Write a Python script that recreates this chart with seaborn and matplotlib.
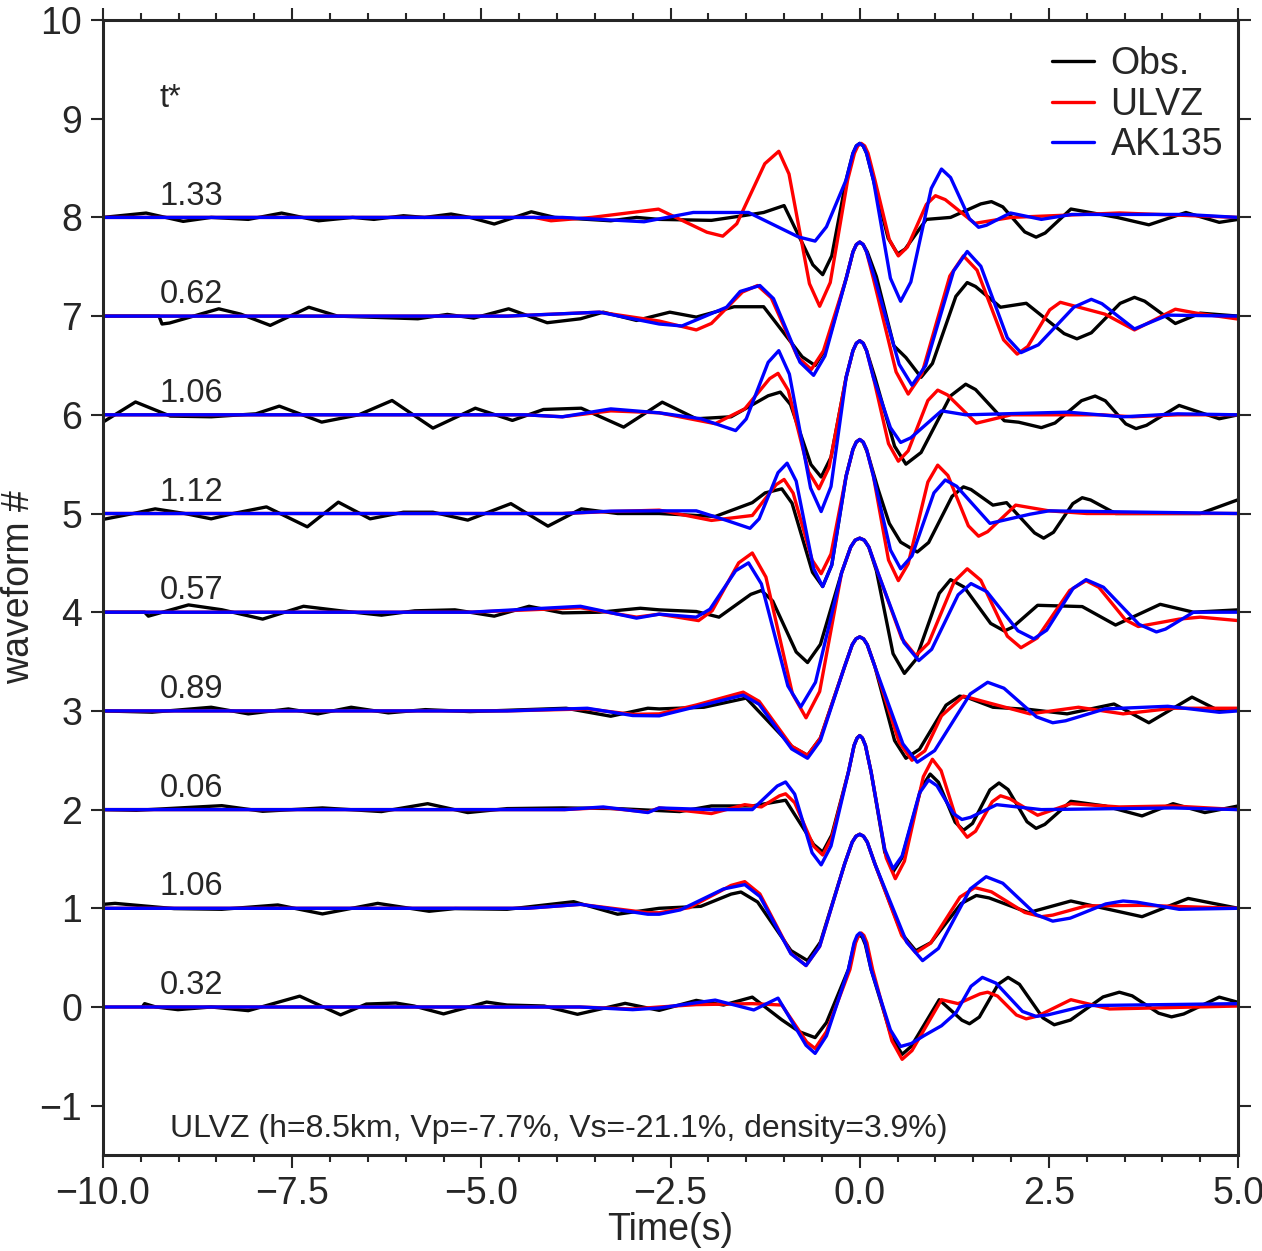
import pandas as pd
import numpy as np
import seaborn as sns
import matplotlib.pyplot as plt
from matplotlib.lines import Line2D
from matplotlib.ticker import MultipleLocator

# (time [s], amplitude) picked off the figure; each trace is drawn offset by its index
OBS_8 = [(-10.0, 0.0), (-9.43, 0.044), (-8.94, -0.04), (-8.57, 0.0), (-8.08, -0.02), (-7.64, 0.044), (-7.15, -0.034),
         (-6.7, 0.0), (-6.42, -0.02), (-6.03, 0.017), (-5.75, 0.0), (-5.4, 0.034), (-5.15, 0.0), (-4.83, -0.067),
         (-4.34, 0.057), (-4.03, 0.0), (-3.29, -0.034), (-2.95, 0.0), (-2.65, -0.02), (-1.96, -0.03), (-1.52, 0.02),
         (-1.27, 0.05), (-1.0, 0.12), (-0.62, -0.48), (-0.49, -0.58), (-0.37, -0.39), (-0.18, 0.38), (-0.09, 0.65),
         (-0.045, 0.725), (0.0, 0.75), (0.045, 0.725), (0.09, 0.65), (0.18, 0.38), (0.375, -0.21), (0.5, -0.37),
         (0.6, -0.32), (0.88, -0.02), (1.2, 0.0), (1.6, 0.137), (1.74, 0.16), (1.89, 0.107), (2.18, -0.147),
         (2.33, -0.2), (2.45, -0.158), (2.79, 0.085), (3.4, 0.0), (3.82, -0.075), (4.31, 0.05), (4.75, -0.05),
         (5.0, -0.02)]
ULVZ_8 = [(-10.0, 0.0), (-4.3, 0.0), (-4.08, -0.034), (-3.54, 0.0), (-2.66, 0.084), (-2.02, -0.15), (-1.81, -0.19),
          (-1.625, -0.064), (-1.255, 0.544), (-1.07, 0.67), (-0.935, 0.44), (-0.665, -0.671), (-0.53, -0.9),
          (-0.39, -0.66), (-0.16, 0.38), (-0.07, 0.65), (-0.025, 0.725), (0.02, 0.75), (0.065, 0.725), (0.11, 0.65),
          (0.2, 0.38), (0.39, -0.224), (0.51, -0.39), (0.63, -0.3), (0.88, 0.131), (1.0, 0.22), (1.13, 0.18),
          (1.52, -0.06), (2.0, 0.0), (3.43, 0.045), (5.0, 0.0)]
AK135_8 = [(-10.0, 0.0), (-3.93, 0.0), (-2.85, -0.044), (-2.2, 0.05), (-1.47, 0.05), (-0.81, -0.198), (-0.59, -0.24),
           (-0.44, -0.095), (-0.18, 0.38), (-0.09, 0.65), (-0.045, 0.725), (0.0, 0.75), (0.045, 0.725), (0.09, 0.65),
           (0.18, 0.38), (0.405, -0.616), (0.54, -0.85), (0.675, -0.654), (0.945, 0.294), (1.08, 0.49), (1.2, 0.404),
           (1.45, -0.014), (1.57, -0.1), (1.675, -0.079), (1.99, 0.045), (2.4, -0.02), (2.8, 0.03), (4.3, 0.03),
           (5.0, 0.0)]

OBS_7 = [(-10.0, 0.0), (-9.26, 0.0), (-9.22, -0.08), (-9.12, -0.07), (-8.47, 0.074), (-8.18, 0.02), (-7.79, -0.094),
         (-7.28, 0.09), (-6.9, 0.0), (-5.84, -0.027), (-5.45, 0.017), (-5.1, -0.02), (-4.64, 0.074), (-4.13, -0.067),
         (-3.69, -0.027), (-3.39, 0.04), (-2.95, -0.044), (-2.51, 0.04), (-2.16, -0.01), (-1.66, 0.095),
         (-1.27, 0.095), (-0.76, -0.413), (-0.59, -0.5), (-0.44, -0.317), (-0.18, 0.38), (-0.09, 0.65),
         (-0.045, 0.725), (0.0, 0.75), (0.045, 0.725), (0.1, 0.65), (0.22, 0.4), (0.45, -0.3), (0.61, -0.42),
         (0.81, -0.62), (0.96, -0.48), (1.27, 0.2), (1.42, 0.34), (1.53, 0.3), (1.86, 0.09), (2.2, 0.13),
         (2.7, -0.177), (2.87, -0.23), (3.06, -0.169), (3.44, 0.129), (3.63, 0.19), (3.765, 0.151), (4.17, -0.075),
         (4.5, 0.03), (5.0, 0.0)]
ULVZ_7 = [(-10.0, 0.0), (-4.66, 0.0), (-3.44, 0.04), (-2.65, -0.05), (-2.16, -0.14), (-1.96, -0.074), (-1.55, 0.244),
          (-1.35, 0.31), (-1.17, 0.186), (-0.82, -0.416), (-0.64, -0.54), (-0.48, -0.352), (-0.18, 0.38),
          (-0.09, 0.65), (-0.045, 0.725), (0.0, 0.75), (0.045, 0.725), (0.09, 0.65), (0.18, 0.38), (0.48, -0.565),
          (0.64, -0.79), (0.82, -0.586), (1.19, 0.406), (1.37, 0.61), (1.55, 0.465), (1.9, -0.24), (2.08, -0.385),
          (2.22, -0.308), (2.51, 0.063), (2.65, 0.14), (3.24, 0.02), (3.63, -0.14), (4.17, 0.07), (4.45, 0.03),
          (5.0, -0.03)]
AK135_7 = [(-10.0, 0.0), (-4.66, 0.0), (-3.44, 0.04), (-2.65, -0.08), (-2.35, -0.1), (-1.76, 0.09), (-1.58, 0.25),
           (-1.32, 0.31), (-1.14, 0.177), (-0.79, -0.467), (-0.61, -0.6), (-0.46, -0.403), (-0.18, 0.38),
           (-0.09, 0.65), (-0.045, 0.725), (0.0, 0.75), (0.045, 0.725), (0.09, 0.65), (0.2, 0.38), (0.52, -0.488),
           (0.69, -0.7), (0.87, -0.502), (1.24, 0.457), (1.42, 0.655), (1.6, 0.505), (1.95, -0.22), (2.13, -0.37),
           (2.36, -0.291), (2.83, 0.091), (3.06, 0.17), (3.2, 0.126), (3.63, -0.13), (4.07, 0.01), (5.0, 0.0)]

OBS_6 = [(-10.0, -0.074), (-9.57, 0.13), (-9.11, -0.013), (-8.57, -0.02), (-7.98, 0.01), (-7.67, 0.088),
         (-7.11, -0.074), (-6.62, 0.0), (-6.18, 0.145), (-5.64, -0.135), (-5.08, 0.067), (-4.59, -0.057),
         (-4.18, 0.054), (-3.68, 0.067), (-3.12, -0.125), (-2.61, 0.128), (-2.16, -0.04), (-1.7, -0.02),
         (-1.21, 0.193), (-1.05, 0.23), (-0.915, 0.104), (-0.645, -0.504), (-0.51, -0.63), (-0.38, -0.43),
         (-0.18, 0.38), (-0.09, 0.65), (-0.045, 0.725), (0.0, 0.75), (0.045, 0.725), (0.09, 0.65), (0.2, 0.38),
         (0.46, -0.318), (0.61, -0.5), (0.81, -0.382), (1.2, 0.192), (1.4, 0.31), (1.53, 0.256), (1.91, -0.06),
         (2.1, -0.075), (2.4, -0.13), (2.58, -0.083), (2.93, 0.143), (3.11, 0.19), (3.245, 0.142), (3.515, -0.092),
         (3.65, -0.14), (3.79, -0.106), (4.22, 0.095), (4.75, -0.04), (5.0, 0.0)]
ULVZ_6 = [(-10.0, 0.0), (-4.42, 0.0), (-3.93, -0.02), (-3.29, 0.04), (-2.65, 0.02), (-1.91, -0.09), (-1.52, 0.06),
          (-1.19, 0.367), (-1.08, 0.42), (-0.945, 0.249), (-0.675, -0.579), (-0.54, -0.75), (-0.405, -0.531),
          (-0.18, 0.38), (-0.09, 0.65), (-0.045, 0.725), (0.0, 0.75), (0.045, 0.725), (0.09, 0.65), (0.18, 0.38),
          (0.38, -0.292), (0.51, -0.47), (0.64, -0.365), (0.9, 0.145), (1.03, 0.25), (1.16, 0.201), (1.54, -0.085),
          (2.0, 0.0), (3.2, 0.0), (3.6, -0.02), (4.2, 0.0), (5.0, 0.0)]
AK135_6 = [(-10.0, 0.0), (-4.42, 0.0), (-3.93, -0.02), (-3.29, 0.06), (-2.65, 0.02), (-2.1, -0.04), (-1.64, -0.16),
           (-1.5, -0.042), (-1.21, 0.532), (-1.07, 0.65), (-0.93, 0.412), (-0.65, -0.742), (-0.51, -0.98),
           (-0.38, -0.727), (-0.18, 0.38), (-0.09, 0.65), (-0.045, 0.725), (0.0, 0.75), (0.045, 0.725), (0.09, 0.65),
           (0.18, 0.38), (0.405, -0.13), (0.54, -0.28), (0.675, -0.233), (1.08, 0.04), (1.4, 0.0), (2.75, 0.027),
           (3.48, -0.02), (4.2, 0.01), (5.0, 0.0)]

OBS_5 = [(-10.0, -0.06), (-9.6, 0.0), (-9.31, 0.047), (-8.92, 0.0), (-8.57, -0.054), (-8.28, 0.0), (-7.84, 0.067),
         (-7.3, -0.135), (-6.89, 0.115), (-6.47, -0.054), (-6.03, 0.013), (-5.64, 0.013), (-5.18, -0.067),
         (-4.61, 0.1), (-4.12, -0.128), (-3.68, 0.047), (-3.2, 0.0), (-2.65, 0.0), (-1.91, -0.03), (-1.42, 0.11),
         (-1.25, 0.209), (-1.03, 0.25), (-0.895, 0.105), (-0.625, -0.595), (-0.49, -0.74), (-0.37, -0.522),
         (-0.18, 0.38), (-0.09, 0.65), (-0.045, 0.725), (0.0, 0.75), (0.045, 0.72), (0.1, 0.62), (0.245, 0.24),
         (0.39, -0.1), (0.54, -0.29), (0.76, -0.39), (0.91, -0.294), (1.22, 0.174), (1.37, 0.27), (1.47, 0.243),
         (1.76, 0.085), (1.94, 0.11), (2.31, -0.197), (2.43, -0.25), (2.56, -0.19), (2.815, 0.1), (2.94, 0.16),
         (3.05, 0.137), (3.38, 0.0), (4.5, 0.0), (5.0, 0.14)]
ULVZ_5 = [(-10.0, 0.0), (-3.93, 0.0), (-3.29, 0.02), (-2.65, 0.034), (-1.96, -0.07), (-1.42, -0.02), (-1.105, 0.292),
          (-1.0, 0.345), (-0.88, 0.206), (-0.63, -0.471), (-0.51, -0.61), (-0.38, -0.41), (-0.18, 0.38),
          (-0.09, 0.65), (-0.045, 0.725), (0.0, 0.75), (0.045, 0.725), (0.09, 0.65), (0.18, 0.38), (0.38, -0.471),
          (0.51, -0.68), (0.64, -0.509), (0.9, 0.319), (1.03, 0.49), (1.165, 0.385), (1.435, -0.125), (1.57, -0.23),
          (1.69, -0.184), (2.06, 0.085), (2.5, 0.027), (3.0, 0.0), (5.0, 0.0)]
AK135_5 = [(-10.0, 0.0), (-3.93, 0.0), (-3.29, 0.024), (-2.65, 0.027), (-2.16, 0.027), (-1.76, -0.07), (-1.45, -0.15),
           (-1.33, -0.054), (-1.08, 0.414), (-0.96, 0.51), (-0.84, 0.328), (-0.61, -0.558), (-0.49, -0.74),
           (-0.37, -0.522), (-0.18, 0.38), (-0.09, 0.65), (-0.045, 0.725), (0.0, 0.75), (0.045, 0.725), (0.09, 0.65),
           (0.18, 0.38), (0.405, -0.369), (0.54, -0.56), (0.69, -0.429), (0.98, 0.209), (1.13, 0.34), (1.28, 0.276),
           (1.72, -0.1), (2.25, -0.007), (2.5, 0.027), (5.0, 0.0)]

OBS_4 = [(-10.0, 0.0), (-9.45, 0.0), (-9.4, -0.04), (-8.87, 0.074), (-8.43, 0.025), (-7.89, -0.07), (-7.35, 0.06),
         (-6.86, 0.014), (-6.32, -0.03), (-5.88, 0.014), (-5.35, 0.024), (-4.83, -0.04), (-4.37, 0.06),
         (-3.93, -0.007), (-3.44, 0.0), (-2.9, 0.04), (-2.65, 0.024), (-2.16, 0.007), (-1.86, -0.05),
         (-1.44, 0.181), (-1.3, 0.22), (-1.15, 0.113), (-0.84, -0.403), (-0.69, -0.51), (-0.52, -0.326),
         (-0.24, 0.4), (-0.12, 0.66), (-0.06, 0.73), (0.0, 0.75), (0.06, 0.73), (0.12, 0.66), (0.22, 0.42),
         (0.44, -0.42), (0.59, -0.62), (0.74, -0.481), (1.05, 0.191), (1.2, 0.33), (1.38, 0.254), (1.73, -0.114),
         (1.91, -0.19), (2.02, -0.152), (2.35, 0.07), (2.94, 0.057), (3.38, -0.13), (3.97, 0.08), (4.41, 0.0),
         (5.0, 0.024)]
ULVZ_4 = [(-10.0, 0.0), (-5.15, 0.0), (-3.69, 0.045), (-2.95, -0.05), (-2.65, -0.02), (-2.13, -0.085), (-1.95, 0.015),
          (-1.6, 0.5), (-1.42, 0.6), (-1.24, 0.356), (-0.89, -0.826), (-0.71, -1.07), (-0.53, -0.804), (-0.24, 0.4),
          (-0.12, 0.66), (-0.06, 0.73), (0.0, 0.75), (0.06, 0.73), (0.12, 0.66), (0.24, 0.4), (0.555, -0.266),
          (0.74, -0.44), (0.91, -0.312), (1.25, 0.312), (1.42, 0.44), (1.6, 0.323), (1.95, -0.243), (2.13, -0.36),
          (2.345, -0.261), (2.775, 0.221), (2.99, 0.32), (3.16, 0.252), (3.51, -0.077), (3.68, -0.145),
          (4.22, -0.07), (4.5, -0.05), (5.0, -0.085)]
AK135_4 = [(-10.0, 0.0), (-5.15, 0.0), (-3.69, 0.06), (-2.95, -0.06), (-2.65, -0.02), (-2.16, -0.05), (-1.98, 0.03),
           (-1.64, 0.42), (-1.47, 0.5), (-1.3, 0.287), (-0.95, -0.747), (-0.78, -0.96), (-0.585, -0.71),
           (-0.24, 0.4), (-0.12, 0.66), (-0.06, 0.73), (0.0, 0.75), (0.06, 0.73), (0.12, 0.66), (0.24, 0.4),
           (0.585, -0.309), (0.78, -0.49), (0.95, -0.376), (1.3, 0.176), (1.47, 0.29), (1.68, 0.208), (2.09, -0.188),
           (2.3, -0.27), (2.47, -0.182), (2.82, 0.242), (2.99, 0.33), (3.22, 0.253), (3.69, -0.123), (3.92, -0.2),
           (4.04, -0.171), (4.41, 0.0), (5.0, 0.0)]

OBS_3 = [(-10.0, 0.0), (-9.35, -0.013), (-8.57, 0.037), (-8.08, -0.03), (-7.55, 0.02), (-7.16, -0.03), (-6.72, 0.037),
         (-6.23, -0.02), (-5.74, 0.013), (-5.15, -0.007), (-3.88, 0.027), (-3.29, -0.054), (-2.8, 0.027),
         (-2.65, 0.02), (-2.06, 0.037), (-1.5, 0.13), (-0.89, -0.365), (-0.69, -0.45), (-0.52, -0.275), (-0.2, 0.45),
         (-0.1, 0.67), (-0.05, 0.73), (0.0, 0.75), (0.05, 0.73), (0.1, 0.67), (0.2, 0.45), (0.46, -0.3),
         (0.61, -0.48), (0.79, -0.388), (1.14, 0.058), (1.32, 0.15), (1.43, 0.133), (1.76, 0.037), (2.25, 0.014),
         (2.74, -0.03), (3.36, 0.07), (3.82, -0.12), (4.39, 0.14), (4.75, 0.0), (5.0, 0.02)]
ULVZ_3 = [(-10.0, 0.0), (-4.66, 0.0), (-3.6, 0.02), (-3.0, -0.035), (-2.65, -0.03), (-2.16, 0.06), (-1.54, 0.19),
          (-1.33, 0.097), (-0.9, -0.357), (-0.69, -0.45), (-0.52, -0.275), (-0.2, 0.45), (-0.1, 0.67), (-0.05, 0.73),
          (0.0, 0.75), (0.05, 0.73), (0.1, 0.67), (0.2, 0.45), (0.52, -0.318), (0.69, -0.5), (0.86, -0.405),
          (1.08, -0.05), (1.37, 0.15), (1.76, 0.07), (2.25, -0.03), (2.89, 0.037), (3.48, -0.03), (4.14, 0.027),
          (5.0, 0.027)]
AK135_3 = [(-10.0, 0.0), (-4.66, 0.0), (-3.6, 0.027), (-3.0, -0.047), (-2.65, -0.05), (-1.54, 0.16), (-1.33, 0.067),
           (-0.9, -0.385), (-0.69, -0.48), (-0.52, -0.3), (-0.2, 0.45), (-0.1, 0.67), (-0.05, 0.73), (0.0, 0.75),
           (0.05, 0.73), (0.1, 0.67), (0.2, 0.45), (0.57, -0.334), (0.76, -0.52), (0.99, -0.402), (1.46, 0.172),
           (1.69, 0.29), (1.905, 0.23), (2.335, -0.06), (2.55, -0.12), (2.72, -0.1), (3.24, 0.02), (4.07, 0.047),
           (4.75, -0.014), (5.0, 0.0)]

OBS_2 = [(-10.0, 0.0), (-9.56, -0.007), (-8.43, 0.04), (-7.89, -0.017), (-7.1, 0.017), (-6.32, -0.02), (-5.71, 0.06),
         (-5.18, -0.03), (-4.66, 0.01), (-3.93, 0.017), (-3.2, 0.01), (-2.38, -0.02), (-1.96, 0.037), (-1.42, 0.037),
         (-0.98, 0.095), (-0.61, -0.353), (-0.49, -0.43), (-0.37, -0.258), (-0.15, 0.38), (-0.075, 0.65),
         (-0.035, 0.725), (0.0, 0.75), (0.035, 0.725), (0.075, 0.65), (0.15, 0.38), (0.33, -0.43), (0.44, -0.63),
         (0.56, -0.485), (0.81, 0.215), (0.93, 0.36), (1.04, 0.277), (1.26, -0.127), (1.37, -0.21), (1.49, -0.14),
         (1.72, 0.2), (1.84, 0.27), (1.96, 0.203), (2.21, -0.123), (2.33, -0.19), (2.445, -0.15), (2.79, 0.084),
         (3.24, 0.037), (3.73, -0.064), (4.14, 0.06), (4.56, -0.03), (5.0, 0.037)]
ULVZ_2 = [(-10.0, 0.0), (-3.9, 0.0), (-3.39, 0.02), (-2.8, -0.025), (-2.65, 0.017), (-1.96, -0.04), (-1.52, 0.05),
          (-1.3, 0.027), (-1.06, 0.14), (-0.98, 0.16), (-0.86, 0.07), (-0.61, -0.37), (-0.49, -0.46), (-0.37, -0.283),
          (-0.15, 0.38), (-0.075, 0.65), (-0.035, 0.725), (0.0, 0.75), (0.035, 0.725), (0.075, 0.65), (0.15, 0.38),
          (0.35, -0.488), (0.47, -0.7), (0.59, -0.523), (0.84, 0.333), (0.96, 0.51), (1.075, 0.395), (1.305, -0.165),
          (1.42, -0.28), (1.53, -0.219), (1.75, 0.079), (1.86, 0.14), (1.98, 0.111), (2.35, -0.057), (2.79, 0.06),
          (3.43, 0.027), (4.14, 0.037), (5.0, 0.0)]
AK135_2 = [(-10.0, 0.0), (-3.9, 0.0), (-3.39, 0.027), (-2.8, -0.03), (-2.65, 0.017), (-1.96, 0.0), (-1.42, 0.0),
           (-1.09, 0.239), (-0.98, 0.28), (-0.86, 0.157), (-0.63, -0.437), (-0.51, -0.56), (-0.38, -0.369),
           (-0.15, 0.38), (-0.075, 0.65), (-0.035, 0.725), (0.0, 0.75), (0.035, 0.725), (0.075, 0.65), (0.15, 0.38),
           (0.33, -0.403), (0.44, -0.6), (0.56, -0.469), (0.79, 0.169), (0.91, 0.3), (1.02, 0.242), (1.24, -0.042),
           (1.35, -0.1), (1.465, -0.078), (1.81, 0.05), (2.4, 0.0), (4.14, 0.017), (5.0, 0.0)]

OBS_1 = [(-10.0, 0.04), (-9.84, 0.05), (-9.06, -0.003), (-8.43, -0.01), (-7.69, 0.034), (-7.1, -0.057),
         (-6.37, 0.05), (-5.69, -0.03), (-5.35, -0.003), (-4.66, -0.01), (-3.78, 0.067), (-3.2, -0.06), (-2.65, 0.0),
         (-2.1, 0.02), (-1.7, 0.144), (-1.57, 0.165), (-1.35, 0.064), (-0.91, -0.428), (-0.69, -0.53),
         (-0.52, -0.343), (-0.2, 0.45), (-0.1, 0.67), (-0.05, 0.73), (0.0, 0.75), (0.05, 0.73), (0.1, 0.67),
         (0.2, 0.45), (0.555, -0.258), (0.74, -0.43), (0.94, -0.348), (1.34, 0.048), (1.54, 0.13), (1.71, 0.105),
         (2.23, -0.044), (2.79, 0.074), (3.73, -0.085), (4.34, 0.1), (5.0, 0.0)]
ULVZ_1 = [(-10.0, 0.0), (-4.4, 0.0), (-3.69, 0.04), (-2.8, -0.045), (-2.65, -0.045), (-2.25, 0.007), (-1.7, 0.232),
          (-1.52, 0.27), (-1.32, 0.146), (-0.91, -0.456), (-0.71, -0.58), (-0.53, -0.386), (-0.2, 0.45), (-0.1, 0.67),
          (-0.05, 0.73), (0.0, 0.75), (0.05, 0.73), (0.1, 0.67), (0.2, 0.45), (0.555, -0.275), (0.74, -0.45),
          (0.935, -0.354), (1.325, 0.114), (1.52, 0.21), (1.74, 0.167), (2.18, -0.042), (2.4, -0.085),
          (2.55, -0.069), (2.99, 0.024), (3.73, 0.03), (5.0, 0.0)]
AK135_1 = [(-10.0, 0.0), (-4.4, 0.0), (-3.69, 0.04), (-2.8, -0.06), (-2.65, -0.06), (-2.37, -0.016), (-1.8, 0.196),
           (-1.52, 0.24), (-1.32, 0.12), (-0.91, -0.46), (-0.71, -0.58), (-0.53, -0.386), (-0.2, 0.45), (-0.1, 0.67),
           (-0.05, 0.73), (0.0, 0.75), (0.05, 0.73), (0.1, 0.67), (0.2, 0.45), (0.62, -0.343), (0.83, -0.53),
           (1.04, -0.406), (1.46, 0.196), (1.67, 0.32), (1.89, 0.254), (2.33, -0.064), (2.55, -0.13), (2.78, -0.1),
           (3.25, 0.044), (3.48, 0.074), (3.665, 0.062), (4.22, -0.01), (5.0, 0.0)]

OBS_0 = [(-9.48, 0.0), (-9.45, 0.034), (-9.3, 0.0), (-9.01, -0.027), (-8.57, 0.0), (-8.08, -0.037), (-7.4, 0.11),
         (-6.86, -0.08), (-6.52, 0.03), (-6.13, 0.04), (-5.89, 0.01), (-5.5, -0.07), (-4.93, 0.05), (-4.66, 0.02),
         (-4.17, 0.01), (-3.73, -0.074), (-3.1, 0.037), (-2.65, -0.034), (-2.16, 0.067), (-1.8, 0.02), (-1.42, 0.1),
         (-1.03, -0.13), (-0.8, -0.25), (-0.59, -0.31), (-0.44, -0.158), (-0.15, 0.38), (-0.075, 0.63),
         (-0.035, 0.705), (0.0, 0.73), (0.035, 0.705), (0.075, 0.63), (0.15, 0.38), (0.42, -0.303), (0.56, -0.48),
         (0.68, -0.399), (1.05, 0.074), (1.35, -0.134), (1.45, -0.17), (1.58, -0.102), (1.83, 0.231), (1.96, 0.3),
         (2.11, 0.23), (2.42, -0.11), (2.57, -0.18), (2.785, -0.132), (3.215, 0.102), (3.43, 0.15), (3.6, 0.113),
         (3.95, -0.063), (4.12, -0.1), (4.28, -0.071), (4.75, 0.1), (5.0, 0.047)]
ULVZ_0 = [(-10.0, 0.0), (-3.7, 0.0), (-3.0, -0.02), (-2.65, 0.0), (-2.16, 0.024), (-1.42, 0.034), (-1.03, 0.02),
          (-0.7, -0.356), (-0.59, -0.42), (-0.44, -0.249), (-0.13, 0.38), (-0.055, 0.65), (-0.015, 0.725),
          (0.02, 0.75), (0.055, 0.725), (0.095, 0.65), (0.17, 0.38), (0.425, -0.343), (0.56, -0.53), (0.69, -0.442),
          (1.08, 0.074), (1.3, 0.034), (1.59, 0.133), (1.69, 0.15), (1.82, 0.111), (2.07, -0.081), (2.2, -0.12),
          (2.35, -0.092), (2.79, 0.074), (3.3, -0.02), (5.0, 0.01)]
AK135_0 = [(-10.0, 0.0), (-3.7, 0.0), (-3.0, -0.027), (-2.65, -0.01), (-1.91, 0.07), (-1.4, -0.03), (-1.08, 0.09),
           (-0.71, -0.388), (-0.59, -0.47), (-0.44, -0.292), (-0.15, 0.38), (-0.075, 0.65), (-0.035, 0.725),
           (0.0, 0.75), (0.035, 0.725), (0.075, 0.65), (0.15, 0.38), (0.405, -0.232), (0.54, -0.4), (0.68, -0.37),
           (0.85, -0.29), (1.08, -0.19), (1.27, -0.06), (1.47, 0.21), (1.62, 0.3), (1.8, 0.242), (2.15, -0.045),
           (2.33, -0.095), (2.49, -0.079), (2.99, 0.014), (5.0, 0.034)]

TSTAR = ["0.32", "1.06", "0.06", "0.89", "0.57", "1.12", "1.06", "0.62", "1.33"]  # trace 0..8
OBS = [OBS_0, OBS_1, OBS_2, OBS_3, OBS_4, OBS_5, OBS_6, OBS_7, OBS_8]
ULVZ = [ULVZ_0, ULVZ_1, ULVZ_2, ULVZ_3, ULVZ_4, ULVZ_5, ULVZ_6, ULVZ_7, ULVZ_8]
AK135 = [AK135_0, AK135_1, AK135_2, AK135_3, AK135_4, AK135_5, AK135_6, AK135_7, AK135_8]

sns.set_style("ticks")
plt.rcParams['font.family'] = ['Liberation Sans', 'DejaVu Sans']
plt.rcParams['font.size'] = 27

fig = plt.figure(figsize=(12.62, 12.51), dpi=100)
ax = fig.add_axes([0.0816, 0.0767, 0.8995, 0.9073])

lw = 2.4
for series, color in [(OBS, 'black'), (ULVZ, 'red'), (AK135, 'blue')]:
    for n, pts in enumerate(series):
        df = pd.DataFrame(pts, columns=['t', 'amp'])
        df['y'] = df['amp'] + n
        sns.lineplot(data=df, x='t', y='y', sort=False, estimator=None, color=color, lw=lw,
                     solid_joinstyle='round', solid_capstyle='round', ax=ax)

for n, lab in enumerate(TSTAR):
    ax.text(-9.25, n + 0.13, lab, fontsize=23.5, ha='left', va='baseline')
ax.text(-9.25, 9.12, 't*', fontsize=23.5, ha='left', va='baseline')
ax.text(-9.11, -1.32, 'ULVZ (h=8.5km, Vp=-7.7%, Vs=-21.1%, density=3.9%)', fontsize=23,
        ha='left', va='baseline')

handles = [Line2D([], [], color=c, lw=lw) for c in ['black', 'red', 'blue']]
ax.legend(handles, ['Obs.', 'ULVZ', 'AK135'], loc='upper right', bbox_to_anchor=(1.0, 0.99),
          frameon=False, fontsize=27, handlelength=1.1, handletextpad=0.45, labelspacing=0.12,
          borderaxespad=0.0)

ax.set_xlim(-10, 5)
ax.set_ylim(-1.5, 10)
ax.xaxis.set_minor_locator(MultipleLocator(0.5))
ax.yaxis.set_major_locator(MultipleLocator(1))
xt = np.arange(-10, 5.01, 2.5)
ax.set_xticks(xt)
ax.set_xticklabels([f"{v:.1f}".replace('-', '\u2212') for v in xt])
ax.tick_params(which='both', direction='out', top=True, right=True, width=1.5, labelsize=27, pad=6)
ax.tick_params(which='major', length=9)
ax.tick_params(which='minor', length=5)
for s in ax.spines.values():
    s.set_linewidth(2.2)
ax.set_xlabel('Time(s)', fontsize=27, labelpad=0)
ax.set_ylabel('waveform #', fontsize=27, labelpad=2)

fig.savefig('out.png', dpi=100)
